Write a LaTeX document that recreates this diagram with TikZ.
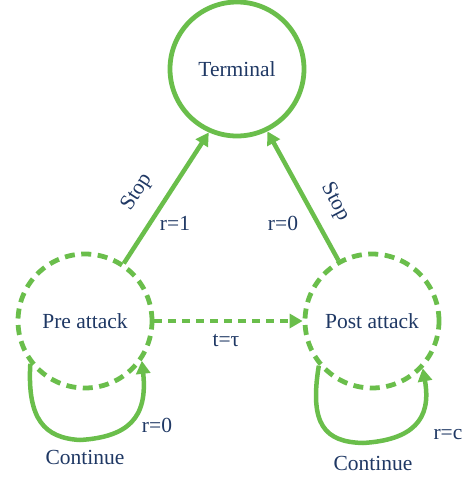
\documentclass[tikz,border=0pt]{standalone}
\usepackage{fontspec}
\setmainfont{Liberation Serif}
\usetikzlibrary{arrows.meta}
\definecolor{stategreen}{RGB}{106,190,75}
\definecolor{labelnavy}{RGB}{31,56,100}
\begin{document}
\begin{tikzpicture}[x=1pt,y=-1pt,
  txt/.style={text=labelnavy,font=\fontsize{21.5}{25}\selectfont,inner sep=0pt},
  state/.style={circle,draw=stategreen,line width=4.8pt,minimum size=134pt,inner sep=0pt,txt},
  dashedstate/.style={state,dash pattern=on 10pt off 6.5pt},
  link/.style={draw=stategreen,line width=4.5pt,-{Triangle[length=13pt,width=14pt]}},
  lab/.style={txt}]
\useasboundingbox (0,0) rectangle (471,477);

% states
\node[state] (term) at (237,69) {Terminal};
\node[dashedstate] (pre) at (85,321) {Pre attack};
\node[dashedstate] (post) at (372,321) {Post attack};

% stopping transitions
\draw[link] (pre.56) -- (term.246);
\draw[link] (post.119) -- (term.296);

% time-triggered transition
\draw[link,dash pattern=on 8pt off 6pt] (pre.east) -- (post.west);

% self loops
\draw[link] (pre.218) .. controls (27,420) and (45,438) .. (80,440)
  .. controls (128,437) and (148,418) .. (pre.325);
\draw[link] (post.220) .. controls (309,425) and (325,442) .. (363,443)
  .. controls (412,440) and (432,420) .. (post.317);

% labels
\node[lab,rotate=57] (stopl) at (137,192) {Stop};
\node[lab] (r1) at (175,223) {r=1};
\node[lab,rotate=-62] (stopr) at (335,202) {Stop};
\node[lab] (r0b) at (283,223) {r=0};
\node[lab] (tt) at (226,341) {t=τ};
\node[lab] (r0a) at (157,425) {r=0};
\node[lab] (contl) at (85,457) {Continue};
\node[lab] (rc) at (448,435) {r=c};
\node[lab] (contr) at (373,463) {Continue};
\end{tikzpicture}
\end{document}
